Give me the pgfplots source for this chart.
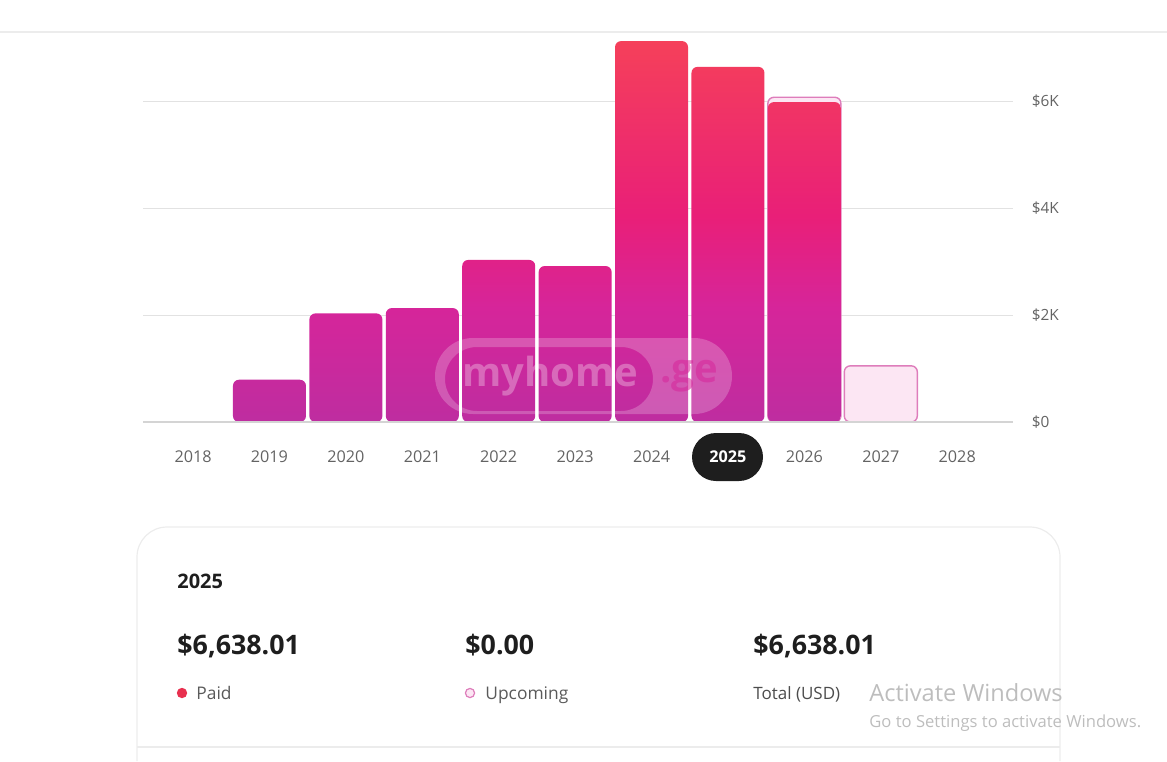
\documentclass[border=0pt]{standalone}
\usepackage{pgfplots}
\pgfplotsset{compat=1.18}
\usepackage{fontspec}
\setmainfont{Open Sans}
\definecolor{barTop}{HTML}{F5405A}
\definecolor{barMid}{HTML}{E91F78}
\definecolor{barLow}{HTML}{D6259A}
\definecolor{barBot}{HTML}{BE2DA0}
\definecolor{upFill}{HTML}{FCE6F3}
\definecolor{upDraw}{HTML}{DE7DBB}
\definecolor{gridc}{HTML}{E2E2E2}
\definecolor{basec}{HTML}{D4D4D4}
\definecolor{tickc}{HTML}{636363}
\definecolor{darkt}{HTML}{1E1E1E}
\definecolor{greyt}{HTML}{5A5A5A}
\definecolor{cardc}{HTML}{ECECEC}
\definecolor{paidc}{HTML}{E8304F}
\definecolor{winc}{HTML}{BDBDBD}
\pgfdeclareverticalshading{barshade}{100bp}{color(0bp)=(barBot); color(25bp)=(barBot); color(40bp)=(barLow); color(52bp)=(barMid); color(75bp)=(barTop); color(100bp)=(barTop)}
\begin{document}
\begin{tikzpicture}
\begin{scope}[x=0.5pt,y=-0.5pt]
\path[use as bounding box] (0,0) rectangle (1167,761);
\draw[cardc, line width=0.6pt] (0,32) -- (1167,32);
\fill[darkt, rounded corners=12pt] (692,433) rectangle (763,481);
\end{scope}
\begin{axis}[
  at={(71.5pt,-211pt)}, anchor=south west,
  scale only axis, width=435pt, height=195pt,
  xmin=-0.655, xmax=10.73, ymin=0, ymax=7290,
  axis x line*=bottom, axis y line*=right,
  axis line style={draw=none},
  major tick length=0pt,
  ymajorgrids, grid style={gridc, line width=0.5pt},
  xtick={0,1,2,3,4,5,6,7,8,9,10},
  xticklabels={2018,2019,2020,2021,2022,2023,2024,{\textcolor{white}{\bfseries 2025}},2026,2027,2028},
  ytick={0,2000,4000,6000},
  yticklabels={\$0,\$2K,\$4K,\$6K},
  xticklabel style={anchor=center, yshift=-17.5pt, text=tickc, font=\fontsize{8.1}{9}\selectfont},
  yticklabel style={anchor=west, xshift=5.9pt, text=tickc, font=\fontsize{7.7}{9}\selectfont},
  clip=false,
]
\addplot[ybar, bar width=36.5pt, bar shift=0pt, fill=upFill, draw=upDraw, line width=0.7pt, rounded corners=3pt]
  coordinates {(8,6070) (9,1050)};
\addplot[ybar, bar width=36.5pt, bar shift=0pt, draw=none, shading=barshade, rounded corners=3pt]
  coordinates {(1,790) (2,2030) (3,2130) (4,3030) (5,2915) (6,7120) (7,6638) (8,5980)};
\draw[basec, line width=0.9pt] (axis cs:-0.655,0) -- (axis cs:10.73,0);
\end{axis}
\begin{scope}[x=0.5pt,y=-0.5pt]
\fill[white, opacity=0.22, rounded corners=19pt, even odd rule]
  (435,338) rectangle (732,414)
  [rounded corners=16pt] (445,347) rectangle (653,411);
\node[anchor=center, inner sep=0, text=white, opacity=0.3, font=\fontsize{20}{22}\selectfont\bfseries] at (550,376) {myhome};
\node[anchor=center, inner sep=0, text=barLow, opacity=0.55, font=\fontsize{20}{22}\selectfont\bfseries] at (689,376) {.ge};
\draw[cardc, line width=0.6pt, rounded corners=15pt] (137,761) -- (137,527) -- (1060,527) -- (1060,761);
\draw[cardc, line width=0.6pt] (137,747) -- (1060,747);
\node[anchor=base west, inner sep=0, text=darkt, font=\fontsize{10}{12}\selectfont\bfseries] at (177,588) {2025};
\node[anchor=base west, inner sep=0, text=darkt, font=\fontsize{13.4}{15}\selectfont\bfseries] at (177,654.5) {\$6,638.01};
\node[anchor=base west, inner sep=0, text=darkt, font=\fontsize{13.4}{15}\selectfont\bfseries] at (465,654.5) {\$0.00};
\node[anchor=base west, inner sep=0, text=darkt, font=\fontsize{13.4}{15}\selectfont\bfseries] at (753,654.5) {\$6,638.01};
\fill[paidc] (182,693) circle[radius=2.6pt];
\draw[upDraw, fill=upFill, line width=0.6pt] (470,693) circle[radius=2.3pt];
\node[anchor=base west, inner sep=0, text=greyt, font=\fontsize{8.7}{10}\selectfont] at (196,699) {Paid};
\node[anchor=base west, inner sep=0, text=greyt, font=\fontsize{8.7}{10}\selectfont] at (485,699) {Upcoming};
\node[anchor=base west, inner sep=0, text=greyt!85!black, font=\fontsize{8.5}{10}\selectfont] at (753,699) {Total (USD)};
\node[anchor=base west, inner sep=0, text=winc, font=\fontsize{11.8}{13}\selectfont] at (869,701) {Activate Windows};
\node[anchor=base west, inner sep=0, text=winc, font=\fontsize{8.3}{10}\selectfont] at (869,727) {Go to Settings to activate Windows.};
\end{scope}
\end{tikzpicture}
\end{document}
